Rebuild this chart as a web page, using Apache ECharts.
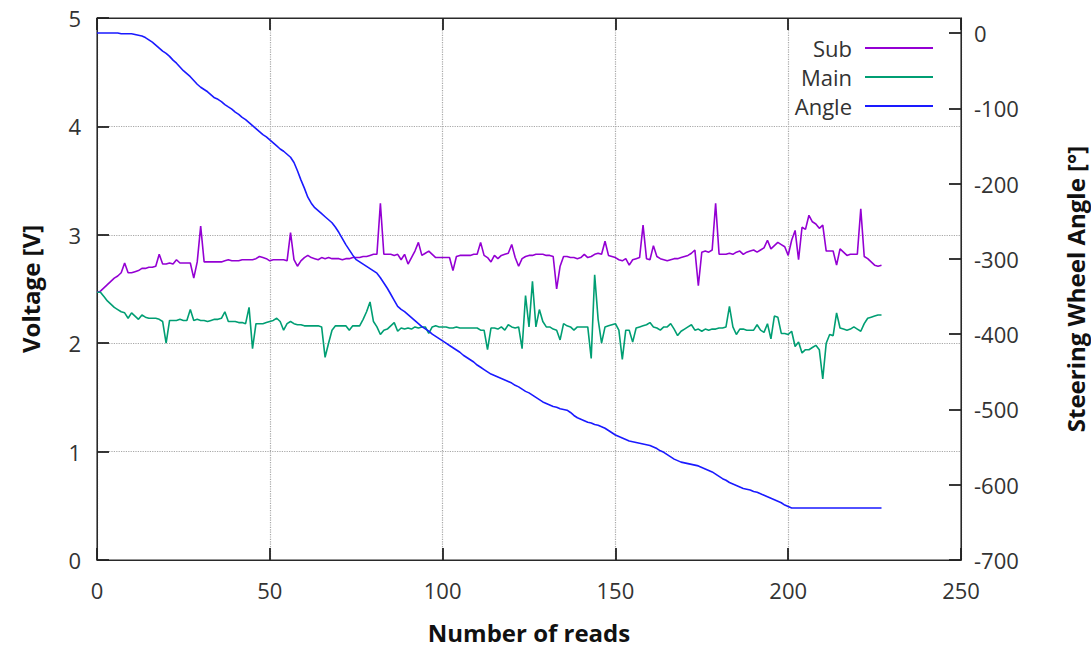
<!DOCTYPE html>
<html>
<head>
<meta charset="utf-8">
<script src="https://cdn.jsdelivr.net/npm/echarts@6/dist/echarts.min.js"></script>
<style>
html,body{margin:0;padding:0;background:#fff;}
#chart{width:1091px;height:647px;}
</style>
</head>
<body>
<div id="chart"></div>
<script>
const seriesNames = ['Sub', 'Main', 'Angle'];
const xTicks = [0, 50, 100, 150, 200, 250];
const voltTicks = [0, 1, 2, 3, 4, 5];
const angleTicks = [-700, -600, -500, -400, -300, -200, -100, 0];

const subV = [
2.47,2.48,2.51,2.54,2.57,2.60,2.62,2.65,2.74,2.65,
2.65,2.66,2.67,2.69,2.69,2.70,2.70,2.71,2.82,2.73,
2.73,2.74,2.73,2.77,2.74,2.74,2.74,2.74,2.60,2.75,
3.08,2.75,2.75,2.75,2.75,2.75,2.75,2.76,2.77,2.76,
2.76,2.76,2.77,2.77,2.77,2.77,2.78,2.80,2.79,2.78,
2.76,2.77,2.77,2.77,2.77,2.76,3.02,2.77,2.71,2.76,
2.79,2.81,2.79,2.78,2.77,2.79,2.78,2.79,2.78,2.78,
2.78,2.77,2.78,2.78,2.79,2.79,2.79,2.80,2.80,2.81,
2.82,2.82,3.29,2.82,2.82,2.82,2.81,2.82,2.77,2.82,
2.73,2.79,2.85,2.93,2.81,2.83,2.85,2.82,2.79,2.79,
2.79,2.79,2.79,2.67,2.80,2.81,2.81,2.81,2.81,2.82,
2.82,2.93,2.81,2.79,2.75,2.81,2.78,2.81,2.82,2.83,
2.91,2.79,2.71,2.78,2.80,2.81,2.81,2.82,2.82,2.82,
2.81,2.81,2.80,2.50,2.71,2.80,2.80,2.79,2.79,2.78,
2.79,2.82,2.79,2.80,2.82,2.83,2.82,2.94,2.81,2.80,
2.79,2.77,2.76,2.78,2.72,2.77,2.78,2.79,3.09,2.78,
2.77,2.90,2.80,2.78,2.77,2.76,2.77,2.78,2.78,2.79,
2.80,2.81,2.83,2.86,2.53,2.84,2.85,2.84,2.86,3.29,
2.82,2.82,2.82,2.83,2.82,2.84,2.85,2.82,2.84,2.85,
2.86,2.84,2.86,2.88,2.95,2.87,2.90,2.93,2.91,2.89,
2.81,2.95,3.04,2.77,3.07,3.05,3.18,3.12,3.10,3.06,
3.09,2.85,2.85,2.85,2.72,2.87,2.84,2.81,2.82,2.82,
2.82,3.24,2.80,2.78,2.75,2.72,2.71,2.72
];

const mainV = [
2.47,2.47,2.43,2.39,2.36,2.33,2.31,2.29,2.28,2.23,
2.28,2.25,2.22,2.26,2.24,2.23,2.23,2.23,2.22,2.20,
2.00,2.21,2.21,2.21,2.22,2.21,2.21,2.31,2.21,2.22,
2.21,2.21,2.20,2.21,2.22,2.22,2.23,2.29,2.20,2.20,
2.20,2.19,2.19,2.18,2.33,1.95,2.18,2.18,2.18,2.19,
2.20,2.21,2.23,2.20,2.12,2.18,2.20,2.18,2.17,2.17,
2.16,2.16,2.16,2.16,2.16,2.15,1.87,2.00,2.12,2.16,
2.16,2.16,2.16,2.12,2.16,2.16,2.16,2.22,2.29,2.38,
2.20,2.15,2.08,2.12,2.13,2.16,2.19,2.11,2.14,2.13,
2.14,2.13,2.15,2.14,2.15,2.15,2.09,2.15,2.16,2.15,
2.15,2.15,2.14,2.14,2.15,2.14,2.14,2.14,2.14,2.14,
2.14,2.12,2.12,1.94,2.14,2.14,2.13,2.15,2.12,2.17,
2.15,2.14,2.15,1.95,2.44,2.15,2.57,2.15,2.31,2.20,
2.15,2.15,2.13,2.12,2.03,2.18,2.16,2.15,2.12,2.15,
2.15,2.15,2.15,1.86,2.63,2.22,2.00,2.15,2.16,2.17,
2.18,2.12,1.85,2.12,2.12,2.01,2.14,2.15,2.16,2.17,
2.19,2.15,2.14,2.12,2.15,2.15,2.18,2.13,2.07,2.11,
2.13,2.15,2.17,2.12,2.13,2.11,2.13,2.12,2.13,2.13,
2.14,2.14,2.15,2.34,2.15,2.08,2.13,2.13,2.12,2.12,
2.12,2.17,2.12,2.10,2.18,2.04,2.25,2.24,2.09,2.09,
2.08,2.11,1.97,2.01,1.91,1.94,1.94,1.96,1.98,1.94,
1.67,2.00,2.08,2.07,2.28,2.14,2.13,2.12,2.13,2.15,
2.13,2.11,2.18,2.23,2.24,2.25,2.26,2.26
];

const angleDeg = [
0,0,0,0,0,0,0,-1,-1,-1,
-1,-2,-3,-4,-6,-9,-12,-16,-20,-24,
-27,-31,-36,-40,-45,-50,-54,-58,-63,-68,
-72,-75,-78,-82,-86,-88,-91,-95,-98,-101,
-105,-108,-112,-115,-119,-123,-127,-131,-135,-138,
-142,-146,-150,-154,-157,-161,-165,-172,-183,-195,
-206,-218,-226,-232,-236,-240,-244,-248,-252,-258,
-265,-273,-281,-288,-295,-301,-304,-307,-310,-313,
-316,-319,-325,-332,-339,-347,-355,-363,-367,-370,
-374,-378,-382,-386,-390,-393,-396,-400,-403,-406,
-409,-412,-415,-418,-421,-424,-428,-431,-434,-437,
-441,-444,-447,-450,-453,-455,-457,-459,-461,-463,
-465,-468,-470,-473,-476,-478,-481,-484,-487,-490,
-492,-494,-496,-497,-499,-500,-501,-504,-508,-511,
-513,-515,-517,-518,-520,-521,-523,-525,-528,-531,
-534,-536,-538,-540,-542,-543,-544,-545,-546,-547,
-548,-550,-552,-555,-557,-560,-563,-566,-568,-570,
-571,-572,-573,-574,-575,-577,-579,-581,-583,-586,
-589,-592,-594,-597,-599,-601,-603,-605,-606,-607,
-609,-610,-612,-614,-616,-618,-620,-622,-624,-627,
-629,-631,-631,-631,-631,-631,-631,-631,-631,-631,
-631,-631,-631,-631,-631,-631,-631,-631,-631,-631,
-631,-631,-631,-631,-631,-631,-631,-631
];

const pairs = arr => arr.map((v, i) => [i, v]);
const FONT = '"Open Sans", "DejaVu Sans", sans-serif';
const AX = '#2a2a2a';
const gridLine = () => ({ show: true, lineStyle: { color: '#a8a8a8', type: 'dotted', width: 1.2 } });
const tick = () => ({ show: true, inside: true, length: 12, lineStyle: { color: '#222', width: 1.8, type: 'solid' } });
const titleStyle = () => ({ fontSize: 24, fontWeight: 'bold', color: '#111', fontFamily: FONT });
const labelStyle = (extra) => Object.assign({ fontSize: 22, color: '#333', fontFamily: FONT }, extra);

const chart = echarts.init(document.getElementById('chart'), null, { renderer: 'svg' });
chart.setOption({
  animation: false,
  grid: { left: 97, right: 130, top: 18, bottom: 87, outerBoundsMode: 'none',
    show: true, borderColor: AX, borderWidth: 1.2 },
  legend: {
    orient: 'vertical', right: 153, top: 32, align: 'right',
    itemWidth: 68, itemHeight: 2, itemGap: 7, icon: 'rect',
    textStyle: { fontSize: 22, lineHeight: 22, color: '#333', fontFamily: FONT, padding: [0, 8, 0, 0] },
    data: seriesNames
  },
  xAxis: [{
    type: 'value', min: xTicks[0], max: xTicks[xTicks.length - 1], interval: 50,
    name: 'Number of reads', nameLocation: 'middle', nameGap: 60,
    nameTextStyle: titleStyle(),
    axisLine: { show: true, onZero: false, lineStyle: { color: AX } },
    axisTick: tick(),
    axisLabel: labelStyle({ margin: 19 }),
    splitLine: gridLine()
  }, {
    type: 'value', position: 'top', min: xTicks[0], max: xTicks[xTicks.length - 1], interval: 50,
    axisLine: { show: true, onZero: false, lineStyle: { color: AX } },
    axisTick: tick(),
    axisLabel: { show: false }, splitLine: { show: false }
  }],
  yAxis: [{
    type: 'value', min: voltTicks[0], max: voltTicks[voltTicks.length - 1], interval: 1,
    name: 'Voltage [V]', nameLocation: 'middle', nameGap: 55, nameRotate: 90,
    nameTextStyle: titleStyle(),
    axisLine: { show: true, onZero: false, lineStyle: { color: AX } },
    axisTick: tick(),
    axisLabel: labelStyle({ margin: 16 }),
    splitLine: gridLine()
  }, {
    type: 'value', position: 'right', min: angleTicks[0], max: 20, interval: 100,
    name: 'Steering Wheel Angle [°]', nameLocation: 'middle', nameGap: 102, nameRotate: 90,
    nameTextStyle: titleStyle(),
    axisLine: { show: true, onZero: false, lineStyle: { color: AX } },
    axisTick: tick(),
    axisLabel: labelStyle({ margin: 13, showMaxLabel: false,
      formatter: v => (angleTicks.indexOf(v) >= 0 ? String(v) : '') }),
    splitLine: { show: false }
  }],
  series: [{
    name: seriesNames[0], type: 'line', xAxisIndex: 0, yAxisIndex: 0, data: pairs(subV),
    showSymbol: false, symbol: 'none', lineStyle: { color: '#9400d3', width: 1.6 }, itemStyle: { color: '#9400d3' }
  }, {
    name: seriesNames[1], type: 'line', xAxisIndex: 0, yAxisIndex: 0, data: pairs(mainV),
    showSymbol: false, symbol: 'none', lineStyle: { color: '#009e73', width: 1.6 }, itemStyle: { color: '#009e73' }
  }, {
    name: seriesNames[2], type: 'line', xAxisIndex: 0, yAxisIndex: 1, data: pairs(angleDeg),
    showSymbol: false, symbol: 'none', lineStyle: { color: '#1a1aff', width: 1.6 }, itemStyle: { color: '#1a1aff' }
  }]
});
</script>
</body>
</html>
